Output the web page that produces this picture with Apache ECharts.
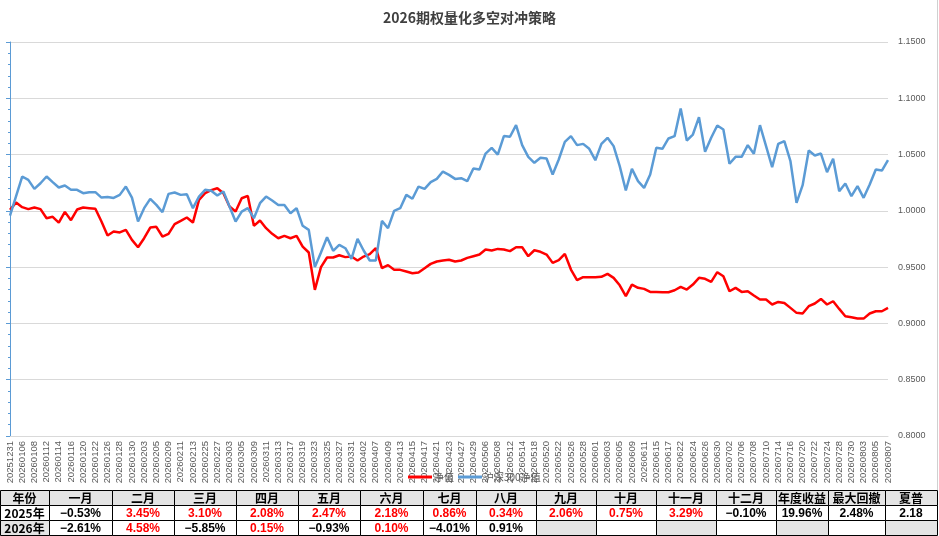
<!DOCTYPE html>
<html>
<head>
<meta charset="utf-8">
<script src="https://cdn.jsdelivr.net/npm/echarts@6/dist/echarts.min.js"></script>
<style>
html,body{margin:0;padding:0;background:#fff;}
#c{width:939px;height:536px;}
</style>
</head>
<body>
<div id="c"></div>
<script>
// ---------- data ----------
const dates = [
'20251231','20260105','20260106','20260107','20260108','20260109','20260112','20260113','20260114','20260115',
'20260116','20260119','20260120','20260121','20260122','20260123','20260126','20260127','20260128','20260129',
'20260130','20260202','20260203','20260204','20260205','20260206','20260209','20260210','20260211','20260212',
'20260213','20260224','20260225','20260226','20260227','20260302','20260303','20260304','20260305','20260306',
'20260309','20260310','20260311','20260312','20260313','20260316','20260317','20260318','20260319','20260320',
'20260323','20260324','20260325','20260326','20260327','20260330','20260331','20260401','20260402','20260403',
'20260407','20260408','20260409','20260410','20260413','20260414','20260415','20260416','20260417','20260420',
'20260421','20260422','20260423','20260424','20260427','20260428','20260429','20260430','20260506','20260507',
'20260508','20260511','20260512','20260513','20260514','20260515','20260518','20260519','20260520','20260521',
'20260522','20260525','20260526','20260527','20260528','20260529','20260601','20260602','20260603','20260604',
'20260605','20260608','20260609','20260610','20260611','20260612','20260615','20260616','20260617','20260618',
'20260622','20260623','20260624','20260625','20260626','20260629','20260630','20260701','20260702','20260703',
'20260706','20260707','20260708','20260709','20260710','20260713','20260714','20260715','20260716','20260717',
'20260720','20260721','20260722','20260723','20260724','20260727','20260728','20260729','20260730','20260731',
'20260803','20260804','20260805','20260806','20260807'
];

const navValues = [
1.0009,1.0074,1.0033,1.0015,1.0030,1.0015,0.9935,0.9947,0.9896,0.9991,
0.9917,1.0012,1.0030,1.0024,1.0018,0.9905,0.9781,0.9816,0.9808,0.9831,
0.9742,0.9677,0.9757,0.9852,0.9858,0.9772,0.9796,0.9882,0.9911,0.9941,
0.9896,1.0098,1.0157,1.0184,1.0201,1.0157,1.0038,0.9994,1.0112,1.0133,
0.9867,0.9914,0.9846,0.9796,0.9757,0.9778,0.9757,0.9778,0.9683,0.9630,
0.9298,0.9500,0.9586,0.9586,0.9606,0.9589,0.9594,0.9559,0.9594,0.9615,
0.9668,0.9491,0.9518,0.9476,0.9476,0.9461,0.9446,0.9452,0.9491,0.9529,
0.9550,0.9559,0.9565,0.9550,0.9559,0.9582,0.9597,0.9612,0.9656,0.9648,
0.9662,0.9656,0.9642,0.9677,0.9677,0.9597,0.9650,0.9636,0.9612,0.9538,
0.9562,0.9618,0.9479,0.9384,0.9411,0.9411,0.9411,0.9414,0.9440,0.9405,
0.9339,0.9242,0.9345,0.9316,0.9307,0.9280,0.9280,0.9277,0.9277,0.9295,
0.9325,0.9301,0.9345,0.9405,0.9396,0.9369,0.9455,0.9419,0.9286,0.9316,
0.9280,0.9286,0.9248,0.9212,0.9212,0.9168,0.9191,0.9182,0.9138,0.9094,
0.9088,0.9153,0.9177,0.9218,0.9168,0.9197,0.9129,0.9064,0.9055,0.9043,
0.9043,0.9088,0.9108,0.9108,0.9138
];

const hs300Values = [
0.9958,1.0130,1.0305,1.0275,1.0195,1.0245,1.0305,1.0255,1.0207,1.0225,
1.0187,1.0187,1.0157,1.0166,1.0166,1.0118,1.0124,1.0115,1.0142,1.0216,
1.0118,0.9905,1.0024,1.0107,1.0053,0.9988,1.0151,1.0163,1.0142,1.0148,
1.0024,1.0127,1.0187,1.0178,1.0136,1.0172,1.0038,0.9905,0.9994,1.0024,
0.9935,1.0068,1.0127,1.0092,1.0053,1.0053,0.9979,1.0024,0.9867,0.9831,
0.9500,0.9630,0.9766,0.9645,0.9698,0.9668,0.9574,0.9751,0.9648,0.9559,
0.9559,0.9911,0.9846,1.0000,1.0024,1.0142,1.0107,1.0216,1.0195,1.0255,
1.0284,1.0349,1.0320,1.0284,1.0290,1.0264,1.0376,1.0367,1.0509,1.0560,
1.0500,1.0664,1.0658,1.0761,1.0584,1.0480,1.0427,1.0471,1.0465,1.0323,
1.0456,1.0613,1.0664,1.0584,1.0595,1.0551,1.0450,1.0595,1.0649,1.0575,
1.0397,1.0181,1.0373,1.0264,1.0204,1.0323,1.0560,1.0551,1.0643,1.0664,
1.0909,1.0625,1.0678,1.0832,1.0524,1.0649,1.0758,1.0723,1.0418,1.0480,
1.0480,1.0584,1.0507,1.0761,1.0575,1.0388,1.0595,1.0619,1.0441,1.0071,
1.0228,1.0536,1.0492,1.0509,1.0344,1.0462,1.0175,1.0243,1.0130,1.0219,
1.0116,1.0234,1.0367,1.0358,1.0450
];

const seriesNames = ['净值', '沪深300净值'];
const chartTitle = '2026期权量化多空对冲策略';

// table
const tableHeader = ['年份','一月','二月','三月','四月','五月','六月','七月','八月','九月','十月','十一月','十二月','年度收益','最大回撤','夏普'];
const yearLabels = ['2025年', '2026年'];
const monthly2025 = ['-0.53%','3.45%','3.10%','2.08%','2.47%','2.18%','0.86%','0.34%','2.06%','0.75%','3.29%','-0.10%'];
const summary2025 = ['19.96%','2.48%','2.18'];
const monthly2026 = ['-2.61%','4.58%','-5.85%','0.15%','-0.93%','0.10%','-4.01%','0.91%'];
const summary2026 = ['','',''];

// ---------- layout ----------
const colEdges = [0,49,112,174,236,298,360,423,476,536,596,656,716,776,828,885,937];
const rowEdges = [490,505,520,535];

function buildRow(monthly, summary) {
  const cells = [];
  for (let m = 0; m < 12; m++) cells.push(monthly[m] !== undefined ? monthly[m] : '');
  return cells.concat(summary);
}
const rows = [
  { label: yearLabels[0], cells: buildRow(monthly2025, summary2025), current: false },
  { label: yearLabels[1], cells: buildRow(monthly2026, summary2026), current: true }
];

const graphics = [];
// header row
tableHeader.forEach((h, c) => {
  const x0 = colEdges[c], x1 = colEdges[c+1];
  graphics.push({
    type: 'rect', shape: { x: x0 + 0.5, y: rowEdges[0] + 0.5, width: x1 - x0, height: rowEdges[1] - rowEdges[0] },
    style: { fill: '#e4e4e4', stroke: '#000', lineWidth: 1 }, silent: true
  });
  graphics.push({
    type: 'text', x: (x0 + x1) / 2, y: (rowEdges[0] + rowEdges[1]) / 2 + 1,
    style: { text: h, fill: '#000', font: 'bold 12px "Noto Sans CJK SC"', align: 'center', verticalAlign: 'middle' }, silent: true
  });
});
rows.forEach((r, ri) => {
  const y0 = rowEdges[ri+1], y1 = rowEdges[ri+2];
  const all = [r.label].concat(r.cells);
  const lastMonthIdx = r.current ? (r.cells.slice(0,12).filter(v => v !== '').length) : -1;
  all.forEach((txt, c) => {
    const x0 = colEdges[c], x1 = colEdges[c+1];
    let fill = '#ffffff';
    if (ri === 1 && (c === 0 || (txt === '' && c % 2 === 1))) fill = '#e4e4e4';
    graphics.push({
      type: 'rect', shape: { x: x0 + 0.5, y: y0 + 0.5, width: x1 - x0, height: y1 - y0 },
      style: { fill: fill, stroke: '#000', lineWidth: 1 }, silent: true
    });
    if (txt === '') return;
    let color = '#000';
    const isMonth = c >= 1 && c <= 12;
    if (isMonth && txt.indexOf('-') !== 0 && c !== lastMonthIdx) color = '#ff0000';
    const isLabel = c === 0;
    graphics.push({
      type: 'text', x: (x0 + x1) / 2, y: (y0 + y1) / 2 + 1,
      style: {
        text: txt.replace('-', '\u2212'), fill: color,
        font: isLabel ? 'bold 12px "Noto Sans CJK SC"' : 'bold 12px "Liberation Sans", Arial',
        align: 'center', verticalAlign: 'middle'
      }, silent: true
    });
  });
});
// right border line (sheet edge)
graphics.push({ type: 'line', shape: { x1: 937.5, y1: 0, x2: 937.5, y2: 490 }, style: { stroke: '#d0d0d0', lineWidth: 1 }, silent: true });

const chart = echarts.init(document.getElementById('c'), null, { renderer: 'canvas' });
chart.setOption({
  animation: false,
  backgroundColor: '#fff',
  title: {
    text: chartTitle, left: 'center', top: 6,
    textStyle: { fontFamily: '"Noto Sans CJK SC"', fontSize: 14, fontWeight: 'bold', color: '#404040' }
  },
  legend: {
    data: seriesNames, left: 403, top: 467, itemWidth: 24, itemHeight: 3, itemGap: 4,
    icon: 'rect',
    textStyle: { fontSize: 10, color: '#595959', fontFamily: '"Noto Sans CJK SC"', padding: [0,0,0,-3] }
  },
  grid: { left: 10, right: 51, top: 42, bottom: 100, containLabel: false },
  xAxis: {
    type: 'category', data: dates, boundaryGap: false,
    axisLine: { show: true, lineStyle: { color: '#d9d9d9' } },
    axisTick: { show: false },
    axisLabel: { interval: 1, rotate: 90, fontSize: 9.5, color: '#595959', fontFamily: 'Liberation Sans, Arial', margin: 5 }
  },
  yAxis: [
    {
      type: 'value', position: 'right', min: 0.8, max: 1.15, interval: 0.05,
      axisLine: { show: false }, axisTick: { show: false },
      axisLabel: { fontSize: 9, color: '#595959', margin: 10, fontFamily: 'Liberation Sans, Arial', formatter: v => v.toFixed(4) },
      splitLine: { show: true, lineStyle: { color: '#d9d9d9', width: 1 } }
    },
    {
      type: 'value', position: 'left', min: 0.8, max: 1.15, interval: 0.05,
      axisLine: { show: true, lineStyle: { color: '#5b9bd5', width: 1 } },
      axisTick: { show: true, length: 4, lineStyle: { color: '#5b9bd5' } },
      minorTick: { show: true, splitNumber: 5, length: 2, lineStyle: { color: '#5b9bd5' } },
      axisLabel: { show: false },
      splitLine: { show: false }
    }
  ],
  series: [
    { name: seriesNames[0], type: 'line', data: navValues, yAxisIndex: 0, showSymbol: false, symbol: 'none',
      lineStyle: { color: '#ff0000', width: 2.5 }, itemStyle: { color: '#ff0000' } },
    { name: seriesNames[1], type: 'line', data: hs300Values, yAxisIndex: 0, showSymbol: false, symbol: 'none',
      lineStyle: { color: '#5b9bd5', width: 2.5 }, itemStyle: { color: '#5b9bd5' } }
  ],
  graphic: graphics
});
</script>
</body>
</html>
